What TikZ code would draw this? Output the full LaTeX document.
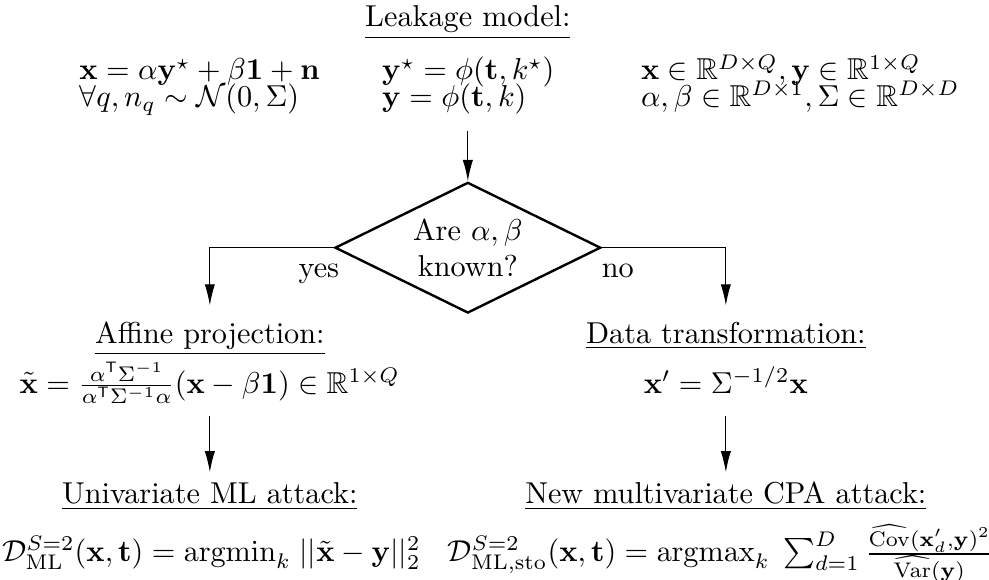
\documentclass[tikz,border=0pt]{standalone}
\usepackage{amsmath,amssymb}
\usepackage{tikz}
\usetikzlibrary{arrows.meta,shapes.geometric,positioning}
\tikzstyle{choicenode}=[diamond, draw, thick, aspect=2, minimum width=3.09cm, minimum height=1.52cm, inner sep=0pt, align=center]
\tikzstyle{headnode}=[anchor=base, text height=6.94pt]
\tikzstyle{eqnode}=[anchor=base west]
\tikzstyle{formnode}=[anchor=base, text depth=4pt]
\tikzstyle{flowedge}=[-{Latex[length=7pt,width=3.4pt]}, thin]

\begin{document}
\begin{tikzpicture}
        \useasboundingbox (0,0) rectangle (11.5,-6.733);
        % leakage model
        \node[headnode] (lm) at (5.44,-0.31) {\underline{Leakage model:}};
        \node[eqnode] (xmod) at (0.8,-0.93) {$\mathbf{x}=\alpha\mathbf{y}^\star+\beta\mathbf{1}+\mathbf{n}$};
        \node[eqnode] (noise) at (0.8,-1.24) {$\forall q, n_q\sim\mathcal{N}(0,\Sigma)$};
        \node[eqnode] (ystar) at (4.32,-0.93) {$\mathbf{y}^\star=\phi(\mathbf{t},k^\star)$};
        \node[eqnode] (yk) at (4.32,-1.24) {$\mathbf{y}=\phi(\mathbf{t},k)$};
        \node[eqnode] (dims) at (7.33,-0.93) {$\mathbf{x}\in\mathbb{R}^{D\times Q},\mathbf{y}\in\mathbb{R}^{1\times Q}$};
        \node[eqnode] (pars) at (7.33,-1.24) {$\alpha,\beta\in\mathbb{R}^{D\times 1},\Sigma\in\mathbb{R}^{D\times D}$};
        % decision
        \node[choicenode] (known) at (5.44,-2.88) {Are $\alpha,\beta$\\known?};
        % two branches
        \node[headnode] (afft) at (2.44,-3.99) {\underline{Affine projection:}};
        \node[headnode] (datt) at (8.44,-3.99) {\underline{Data transformation:}};
        \node[formnode] (affeq) at (2.44,-4.57) {$\tilde{\mathbf{x}}=\frac{\alpha^{\mathsf{T}}\Sigma^{-1}}{\alpha^{\mathsf{T}}\Sigma^{-1}\alpha}(\mathbf{x}-\beta\mathbf{1})\in\mathbb{R}^{1\times Q}$};
        \node[formnode] (dateq) at (8.44,-4.57) {$\mathbf{x}'=\Sigma^{-1/2}\mathbf{x}$};
        \node[headnode] (mlt) at (2.44,-5.86) {\underline{Univariate ML attack:}};
        \node[headnode] (cpat) at (8.44,-5.86) {\underline{New multivariate CPA attack:}};
        \node[anchor=base] (mlatk) at (2.46,-6.53) {$\mathcal{D}^{S=2}_{\mathrm{ML}}(\mathbf{x},\mathbf{t})=\mathrm{argmin}_k\;||\tilde{\mathbf{x}}-\mathbf{y}||_2^2$};
        \node[anchor=base] (cpaatk) at (8.38,-6.53) {$\mathcal{D}^{S=2}_{\mathrm{ML,sto}}(\mathbf{x},\mathbf{t})=\mathrm{argmax}_k\;\sum_{d=1}^{D}\frac{\widehat{\mathrm{Cov}}(\mathbf{x}'_d,\mathbf{y})^2}{\widehat{\mathrm{Var}}(\mathbf{y})}$};
        % arrows
        \draw[flowedge, shorten <=2pt] (yk.south -| known.north) -- (known.north);
        \draw[flowedge, shorten >=2pt] (known.west) -| node[pos=0.06, below=2pt] (yes) {yes} (afft.north);
        \draw[flowedge, shorten >=2pt] (known.east) -| node[pos=0.064, below=2pt] (no) {no} (datt.north);
        \draw[flowedge] (affeq.south) -- (mlt.north);
        \draw[flowedge] (dateq.south) -- (cpat.north);
      \end{tikzpicture}
\end{document}
